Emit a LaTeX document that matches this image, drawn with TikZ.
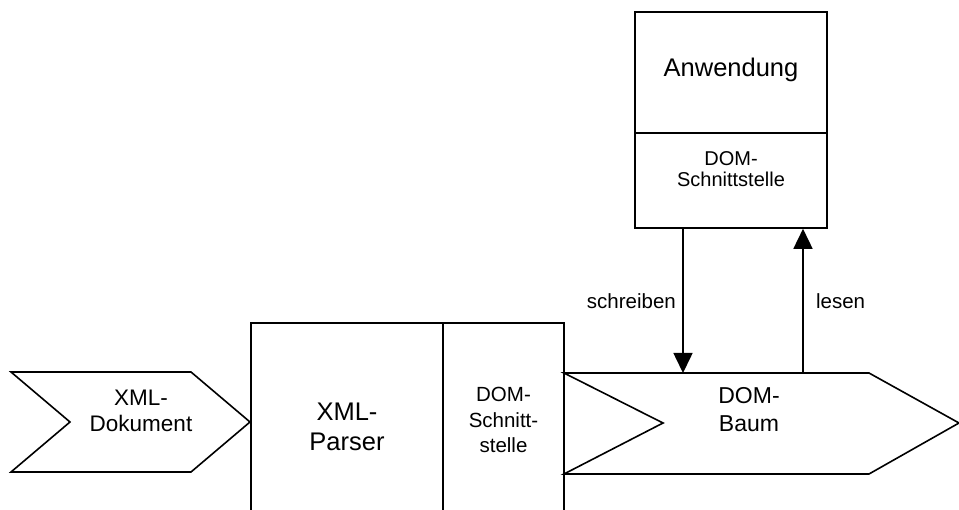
\documentclass[tikz,border=0pt]{standalone}
\usepackage{fontspec}
\setmainfont{Liberation Sans}
\usepackage{tikz}
\usetikzlibrary{arrows.meta}

\begin{document}
\begin{tikzpicture}[x=1pt, y=-1pt, line width=1.6pt,
        big/.style={align=center, font=\fontsize{25.5}{30}\selectfont},
        mid/.style={align=center, font=\fontsize{22.5}{27}\selectfont},
        small/.style={align=center, font=\fontsize{20.5}{25.5}\selectfont},
        box/.style={draw, inner sep=0pt}]
                \useasboundingbox (0,0) rectangle (959,510);
                \begin{scope}
                \clip (0,0) rectangle (959,510);
                \node[box, minimum width=192, minimum height=121] at (731,72.5) (app) {};
                \node[box, minimum width=192, minimum height=95] at (731,180.5) (appdom) {};
                \node[box, minimum width=192, minimum height=230] at (347,438) (parser) {};
                \node[box, minimum width=121, minimum height=230] at (503.5,438) (pdom) {};
                \draw (11,372) -- (191,372) -- (250,422) -- (191,472) -- (11,472) -- (70,422) -- cycle;
                \draw (564,373) -- (869,373) -- (959,423) -- (869,474) -- (564,474) -- (663,423) -- cycle;
                \end{scope}
                \node[big] at (731,70) (anw) {Anwendung};
                \node[small, font=\fontsize{20}{21.7}\selectfont] at (731,169) (anwdom) {DOM-\\Schnittstelle};
                \node[big] at (347,427) (xmlp) {XML-\\Parser};
                \node[small] at (503.5,420) (pdomtxt) {DOM-\\Schnitt-\\stelle};
                \node[mid, font=\fontsize{22.5}{26}\selectfont] at (141,411) (dok) {XML-\\Dokument};
                \node[mid, font=\fontsize{23}{28}\selectfont] at (749,410) (baum) {DOM-\\Baum};
                \coordinate (wr) at (683,373);
                \coordinate (rd) at (803,373);
                \path[->] 
                    (appdom.south -| wr)  edge [>={Triangle[width=19pt,length=20pt]}] node[left, small, xshift=-3pt] {schreiben} (wr)
                    (rd)  edge [>={Triangle[width=19pt,length=20pt]}] node[right, small, xshift=9pt] {lesen} (appdom.south -| rd);
            \end{tikzpicture}
\end{document}
